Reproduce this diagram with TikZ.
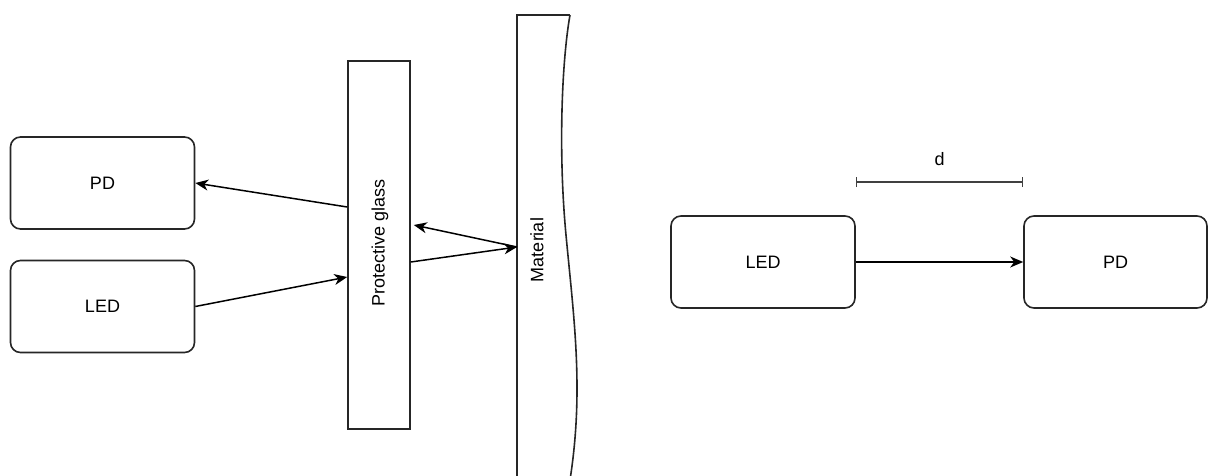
\documentclass[tikz,border=0pt]{standalone}
\usepackage{fontspec}
\setmainfont{Liberation Sans}
\usetikzlibrary{arrows.meta,calc}
\begin{document}
\begin{tikzpicture}[x=1pt,y=-1pt,
  box/.style={draw=black!85,line width=1.6pt,rounded corners=10pt,minimum width=184pt,minimum height=92pt,inner sep=0pt,font=\fontsize{18}{20}\selectfont},
  plainbox/.style={draw=black!85,line width=1.6pt,inner sep=0pt},
  lbl/.style={font=\fontsize{18}{20}\selectfont,inner sep=0pt},
  arr/.style={line width=1.5pt,-{Stealth[length=13pt,width=11pt,inset=4pt]}}]
\useasboundingbox (0,0) rectangle (1208,476);
% left side
\node[box] (pd1) at (102.5,183) {PD};
\node[box] (led1) at (102.5,306.5) {LED};
\node[plainbox,minimum width=62pt,minimum height=368pt] (glass) at (379,245) {};
\node[lbl,rotate=90] (glasslbl) at (380,243) {Protective glass};
% material
\draw[line width=1.6pt,draw=black!85] (570,15) -- (517,15) -- (517,480);
\draw[line width=1.6pt,draw=black!85] (570,15) .. controls (562,60) and (558,150) .. (566,235) .. controls (574,320) and (584,390) .. (570,480);
\node[lbl,rotate=90] (matlbl) at (537,250) {Material};
\coordinate (m) at (517,247);
% connectors
\draw[arr] ([yshift=38pt]glass.west) -- (pd1.east);
\draw[arr] (led1.east) -- ([yshift=-32pt]glass.west);
\draw[arr] ([yshift=-17pt]glass.east) -- (m);
\draw[arr] (m) -- ([yshift=20pt,xshift=3pt]glass.east);
% right side
\node[box] (led2) at (763,262) {LED};
\node[box,minimum width=183pt] (pd2) at (1115.5,262) {PD};
\draw[arr] (led2.east) -- (pd2.west);
\coordinate (d1) at ($(led2.north east)+(0,-33)$);
\coordinate (d2) at ($(pd2.north west)+(0,-33)$);
\draw[line width=1.6pt,draw=black!75,{Bar[width=10pt]}-{Bar[width=10pt]}] (d1) -- (d2);
\node[lbl] (dlbl) at ($(d1)!0.5!(d2)+(0,-23)$) {d};
\end{tikzpicture}
\end{document}
